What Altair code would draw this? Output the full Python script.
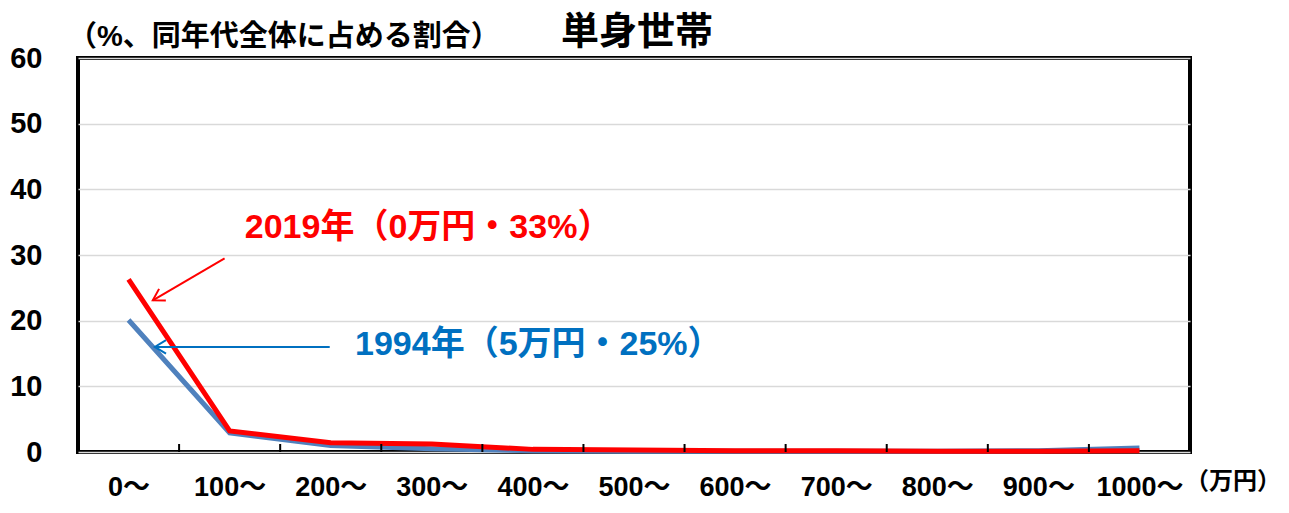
import altair as alt
import pandas as pd

categories = ["0～", "100～", "200～", "300～", "400～", "500～", "600～", "700～", "800～", "900～", "1000～"]
v1994 = [20.1, 2.9, 1.0, 0.5, 0.2, 0.1, 0.1, 0.1, 0.1, 0.2, 0.6]
v2019 = [26.3, 3.2, 1.4, 1.2, 0.4, 0.3, 0.2, 0.2, 0.1, 0.1, 0.2]
series_names = ["1994年", "2019年"]
series_colors = ["#4F81BD", "#FF0000"]

title_text = "単身世帯"
subtitle_text = "（%、同年代全体に占める割合）"
unit_text = "（万円）"
label_2019 = "2019年（0万円・33%）"
label_1994 = "1994年（5万円・25%）"
ann_colors = ["#FF0000", "#0070C0"]

FONT = "Liberation Sans, Noto Sans CJK JP, sans-serif"
CJK = "Noto Sans CJK JP, sans-serif"
W, H = 1112, 394

rows = []
for name, vals in zip(series_names, [v1994, v2019]):
    for i, v in enumerate(vals):
        rows.append({"idx": i, "value": v, "series": name})
df = pd.DataFrame(rows)

xscale = alt.Scale(domain=[-0.5, len(categories) - 0.5], nice=False, zero=False)
yscale = alt.Scale(domain=[0, 60], nice=False)

label_expr = "[" + ",".join("'" + c + "'" for c in categories) + "][datum.value]"

base_x = alt.X("idx:Q", scale=xscale,
               axis=alt.Axis(values=list(range(len(categories))), labelExpr=label_expr,
                             ticks=False, grid=False, domain=False, title=None,
                             labelFont=FONT, labelFontSize=27, labelFontWeight="bold",
                             labelColor="black", labelPadding=22, labelBaseline="top"))
base_y = alt.Y("value:Q", scale=yscale,
               axis=alt.Axis(values=list(range(0, 61, 10)), grid=True, gridColor="#D9D9D9",
                             gridWidth=1.5, ticks=False, domain=False, title=None,
                             labelFont=FONT, labelFontSize=29, labelFontWeight="bold",
                             labelColor="black", labelPadding=36))

lines = alt.Chart(df).mark_line(strokeWidth=5, strokeCap="butt", strokeJoin="miter").encode(
    x=base_x, y=base_y,
    color=alt.Color("series:N", scale=alt.Scale(domain=series_names, range=series_colors), legend=None),
    order=alt.Order("idx:Q"),
)

bounds = pd.DataFrame({"b": [i + 0.5 for i in range(len(categories) - 1)]})
ticks = alt.Chart(bounds).mark_rule(color="black", strokeWidth=2).encode(
    x=alt.X("b:Q", scale=xscale), y=alt.value(H), y2=alt.value(H - 8))

# annotations (arrow start, arrow tip, label position) in data coordinates
ann_labels = [label_2019, label_1994]
arrow_x = [0.95, 1.99]
arrow_y = [29.5, 16.0]
tip_x = [0.24, 0.26]
tip_y = [23.1, 16.0]
head_angle = [149.7, 180.0]
label_x = [1.15, 2.24]
label_y = [34.1, 16.3]

ann_layers = []
for k in range(len(ann_labels)):
    d = pd.DataFrame({"x": [arrow_x[k]], "y": [arrow_y[k]], "x2": [tip_x[k]], "y2": [tip_y[k]],
                      "ang": [head_angle[k]], "lx": [label_x[k]], "ly": [label_y[k]],
                      "t": [ann_labels[k]]})
    col = ann_colors[k]
    ann_layers.append(alt.Chart(d).mark_rule(strokeWidth=2, color=col).encode(
        x=alt.X("x:Q", scale=xscale), y=alt.Y("y:Q", scale=yscale), x2="x2:Q", y2="y2:Q"))
    ann_layers.append(alt.Chart(d).mark_point(
        shape="M -1 -0.6 L 0 0 L -1 0.6", filled=False, strokeWidth=2, size=500, opacity=1,
        color=col).encode(
        x=alt.X("x2:Q", scale=xscale), y=alt.Y("y2:Q", scale=yscale),
        angle=alt.Angle("ang:Q", scale=None)))
    ann_layers.append(alt.Chart(d).mark_text(
        align="left", baseline="middle", font=FONT, fontSize=34, fontWeight="bold", color=col).encode(
        x=alt.X("lx:Q", scale=xscale), y=alt.Y("ly:Q", scale=yscale), text="t:N"))

title = alt.Chart(pd.DataFrame({"t": [title_text]})).mark_text(
    align="center", baseline="middle", font=CJK, fontSize=38, fontWeight="bold", color="black"
).encode(x=alt.value(559), y=alt.value(-25), text="t:N")
subtitle = alt.Chart(pd.DataFrame({"t": [subtitle_text]})).mark_text(
    align="left", baseline="middle", font=FONT, fontSize=29, fontWeight="bold", color="black"
).encode(x=alt.value(-10), y=alt.value(-21), text="t:N")
unit = alt.Chart(pd.DataFrame({"t": [unit_text]})).mark_text(
    align="left", baseline="middle", font=CJK, fontSize=24, fontWeight="bold", color="black"
).encode(x=alt.value(1107), y=alt.value(424), text="t:N")

chart = alt.layer(lines, ticks, *ann_layers, title, subtitle, unit).properties(
    width=W, height=H,
    autosize=alt.AutoSizeParams(type="none"),
    padding={"left": 70, "top": 50, "right": 91, "bottom": 48},
).configure(background="white").configure_view(stroke="black", strokeWidth=4)

chart.save("out.html", embed_options={"renderer": "svg", "actions": False})
